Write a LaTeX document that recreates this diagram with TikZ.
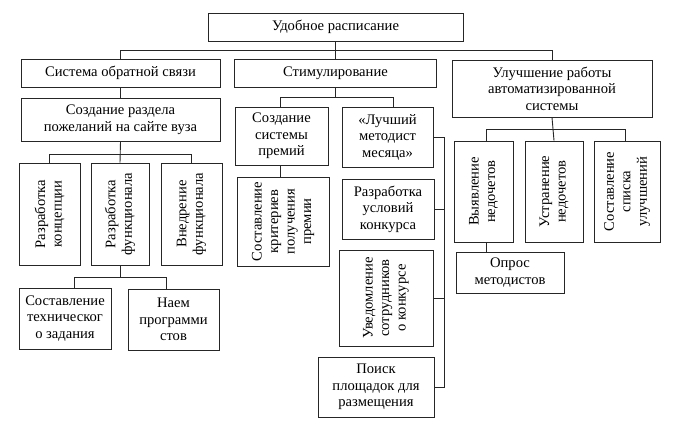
\documentclass[tikz,border=0pt]{standalone}
\usepackage{fontspec}
\setmainfont{Liberation Serif}
\begin{document}
\begin{tikzpicture}[x=1pt,y=-1pt,
  box/.style={draw=black!85,line width=0.9pt,inner sep=1pt,align=center,font=\fontsize{14.6}{16.5}\selectfont},
  vbox/.style={box,rotate=90},
  conn/.style={draw=black!85,line width=0.9pt}]
\useasboundingbox[fill=white] (0,0) rectangle (680,433);
% level 0
\node[box,minimum width=255pt,minimum height=28pt] (top) at (335.5,27) {Удобное расписание};
% level 1
\node[box,minimum width=199pt,minimum height=28pt] (sys) at (120.5,73) {Система обратной связи};
\node[box,minimum width=202pt,minimum height=28pt] (stim) at (335.5,73) {Стимулирование};
\node[box,minimum width=200pt,minimum height=57pt] (ulu) at (552,88.5) {Улучшение работы\\автоматизированной\\системы};
% left branch
\node[box,minimum width=199pt,minimum height=43pt] (razd) at (120.5,119.5) {Создание раздела\\пожеланий на сайте вуза};
\node[vbox,minimum width=102pt,minimum height=61pt] (konc) at (49.5,214) {Разработка\\концепции};
\node[vbox,minimum width=102pt,minimum height=58pt] (func) at (120,214) {Разработка\\функционала};
\node[vbox,minimum width=102pt,minimum height=61pt] (vned) at (191.5,214) {Внедрение\\функционала};
\node[box,minimum width=92pt,minimum height=61pt] (tz) at (65,318.5) {Составление\\техническог\\о задания};
\node[box,minimum width=91pt,minimum height=61pt] (naem) at (173.5,319.5) {Наем\\программи\\стов};
% middle branch
\node[box,minimum width=93pt,minimum height=58pt] (prem) at (281.5,136) {Создание\\системы\\премий};
\node[box,minimum width=91pt,minimum height=60pt] (luch) at (387.5,137) {«Лучший\\методист\\месяца»};
\node[vbox,minimum width=89pt,minimum height=92pt] (krit) at (283,221.5) {Составление\\критериев\\получения\\премии};
\node[box,minimum width=92pt,minimum height=60pt] (uslov) at (388,209) {Разработка\\условий\\конкурса};
\node[vbox,minimum width=96pt,minimum height=94pt] (uved) at (386,298) {Уведомление\\сотрудников\\о конкурсе};
\node[box,minimum width=116pt,minimum height=60pt] (poisk) at (376,387) {Поиск\\площадок для\\размещения};
% right branch
\node[vbox,minimum width=101pt,minimum height=59pt] (vyyav) at (483.5,191.5) {Выявление\\недочетов};
\node[vbox,minimum width=101pt,minimum height=58pt] (ustr) at (554,191.5) {Устранение\\недочетов};
\node[vbox,minimum width=101pt,minimum height=66pt] (spis) at (627,191.5) {Составление\\списка\\улучшений};
\node[box,minimum width=108pt,minimum height=41pt] (opros) at (510,272.5) {Опрос\\методистов};
% bus coordinates
\coordinate (b0) at (0,50);
\coordinate (b1) at (0,97);
\coordinate (b2) at (0,154);
\coordinate (b3) at (0,277);
\coordinate (b4) at (0,129);
\coordinate (lb) at (444,0);
% connectors
\draw[conn] (top.south) -- (stim.north);
\draw[conn] (sys.north) -- (sys.north |- b0) -- (ulu.north |- b0) -- (ulu.north);
\draw[conn] (sys.south) -- (razd.north);
\draw[conn] (razd.south) -- (func.east);
\draw[conn] (konc.east) -- (konc.east |- b2) -- (vned.east |- b2) -- (vned.east);
\draw[conn] (func.west) -- (func.west |- b3);
\draw[conn] ([xshift=9pt]tz.north) -- ([xshift=9pt]tz.north |- b3) -- ([xshift=-7.5pt]naem.north |- b3) -- ([xshift=-7.5pt]naem.north);
\draw[conn] (stim.south) -- (stim.south |- b1);
\draw[conn] ([xshift=-1.5pt]prem.north) -- ([xshift=-1.5pt]prem.north |- b1) -- ([xshift=5.5pt]luch.north |- b1) -- ([xshift=5.5pt]luch.north);
\draw[conn] ([xshift=-1.5pt]prem.south) -- ([xshift=-1.5pt]prem.south |- krit.east);
\draw[conn] (luch.east) -- (luch.east -| lb) -- (poisk.east -| lb) -- (poisk.east);
\draw[conn] (uslov.east) -- (uslov.east -| lb);
\draw[conn] (uved.south) -- (uved.south -| lb);
\draw[conn] (ulu.south) -- (ustr.east);
\draw[conn] ([xshift=2.5pt]vyyav.east) -- ([xshift=2.5pt]vyyav.east |- b4) -- ([xshift=-2pt]spis.east |- b4) -- ([xshift=-2pt]spis.east);
\draw[conn] ([xshift=2.5pt]vyyav.west) -- ([xshift=2.5pt]vyyav.west |- opros.north);
\end{tikzpicture}
\end{document}
